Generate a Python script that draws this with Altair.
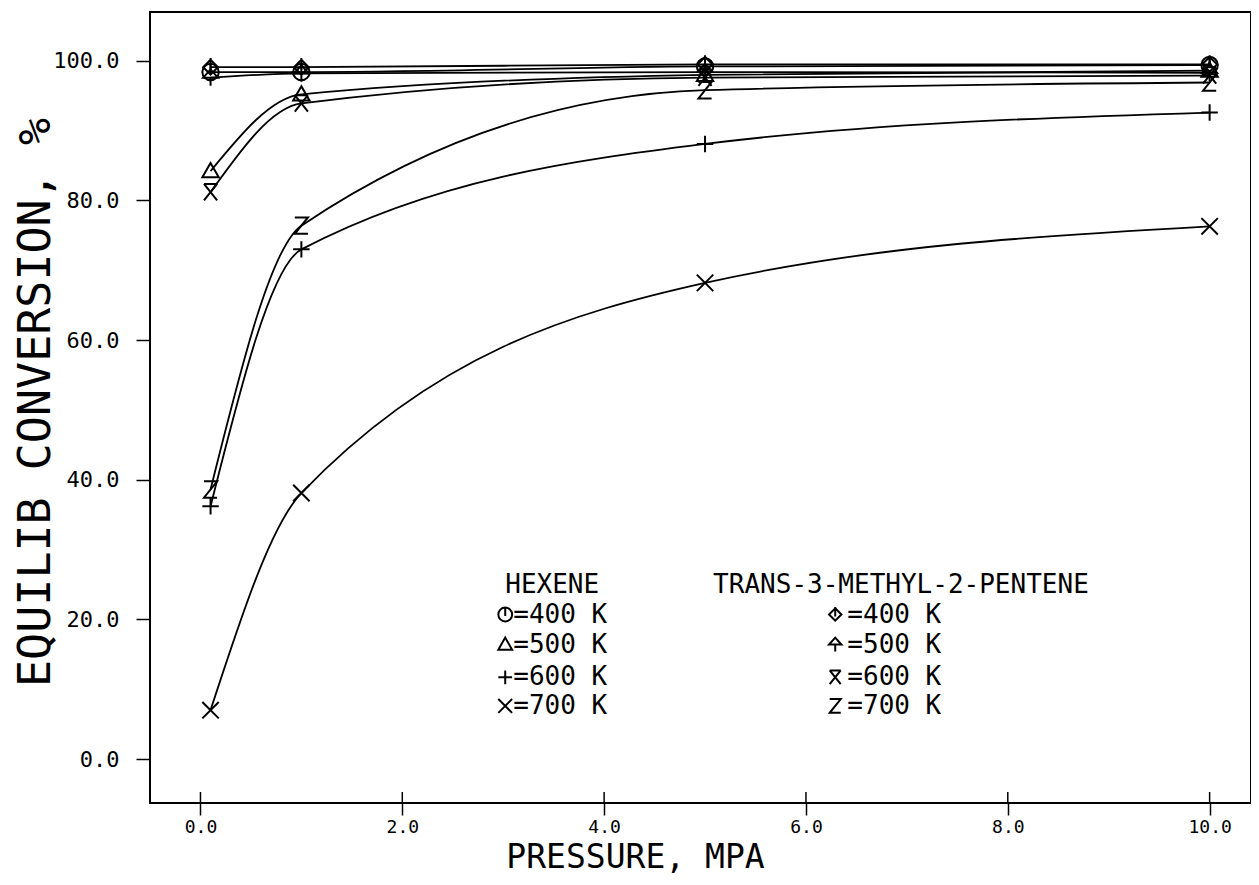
import altair as alt
import pandas as pd

# ---- data ----
pressure = [0.1, 1.0, 5.0, 10.0]

series_names = ["HEX400", "HEX500", "HEX600", "HEX700",
                "T3M400", "T3M500", "T3M600", "T3M700"]

hex_400 = [98.4, 98.4, 99.2, 99.4]
hex_500 = [84.2, 95.2, 98.0, 98.6]
hex_600 = [36.2, 73.0, 88.1, 92.6]
hex_700 = [7.0, 38.1, 68.2, 76.3]
t3m_400 = [99.1, 99.1, 99.5, 99.5]
t3m_500 = [97.6, 98.2, 98.4, 98.3]
t3m_600 = [81.2, 93.9, 97.6, 97.9]
t3m_700 = [38.6, 76.4, 95.8, 96.9]

values = [hex_400, hex_500, hex_600, hex_700, t3m_400, t3m_500, t3m_600, t3m_700]

legend_headers = ["HEXENE", "TRANS-3-METHYL-2-PENTENE"]
legend_labels = ["=400 K", "=500 K", "=600 K", "=700 K"]

x_ticks = [0, 2, 4, 6, 8, 10]
y_ticks = [0, 20, 40, 60, 80, 100]

# ---- marker glyphs (plotter symbols) ----
shape_paths = [
    "M-1,0A1,1,0,1,1,1,0A1,1,0,1,1,-1,0Z M0,-1L0,0.2",          # circle with bar
    "M0,-1L1,0.75L-1,0.75Z",                                     # triangle
    "M-1,0L1,0 M0,-1L0,1",                                       # plus
    "M-1,-1L1,1 M-1,1L1,-1",                                     # x
    "M0,-0.9L0.9,0L0,0.9L-0.9,0Z M0,-1.1L0,0.3",                 # diamond with bar
    "M0,-1L0.9,0L-0.9,0Z M0,0L0,1",                              # spade/arrow
    "M-0.8,-1L0.8,-1 M-0.8,-1L0.8,1 M0.8,-1L-0.8,1",             # x with top bar
    "M-0.8,-1L0.8,-1L-0.8,1L0.8,1",                              # Z
]

rows = []
for name, vals in zip(series_names, values):
    for p, v in zip(pressure, vals):
        rows.append({"series": name, "p": p, "v": v})
df = pd.DataFrame(rows)

# legend layout (annotation positions in data units)
legend_row_y = [20.7, 16.4, 11.7, 7.6]
legend_header_y = 24.9
hex_glyph_x, hex_text_x, hex_head_x = 3.02, 3.10, 3.02
t3m_glyph_x, t3m_text_x, t3m_head_x = 6.29, 6.41, 5.08

leg_glyph = pd.DataFrame({
    "series": series_names,
    "p": [hex_glyph_x] * 4 + [t3m_glyph_x] * 4,
    "v": legend_row_y * 2,
})
leg_text = pd.DataFrame({
    "label": legend_labels * 2 + legend_headers,
    "p": [hex_text_x] * 4 + [t3m_text_x] * 4 + [hex_head_x, t3m_head_x],
    "v": legend_row_y * 2 + [legend_header_y, legend_header_y],
})

mono = "DejaVu Sans Mono"

xscale = alt.Scale(domain=[-0.5, 10.41], nice=False, zero=False)
yscale = alt.Scale(domain=[-6.3, 107.0], nice=False, zero=False)
shape_scale = alt.Scale(domain=series_names, range=shape_paths)

x_axis = alt.Axis(values=x_ticks, format=".1f", title="PRESSURE, MPA",
                  grid=False, domain=False, tickSize=12, tickWidth=1.5, tickColor="black",
                  labelFont=mono, labelFontSize=18,
                  labelColor="black", labelPadding=3,
                  titleFont=mono, titleFontSize=33, titleFontWeight="normal",
                  titleColor="black", titleX=485, titleY=64, titleAlign="center",
                  titleBaseline="alphabetic")
y_axis = alt.Axis(values=y_ticks, format=".1f",
                  title="EQUILIB CONVERSION, %",
                  grid=False, domain=False, tickSize=14, tickWidth=1.5, tickColor="black",
                  labelFont=mono, labelFontSize=22, labelColor="black", labelPadding=17,
                  titleFont=mono, titleFontSize=45, titleFontWeight="normal",
                  titleColor="black", titleX=-115, titleY=390, titleAngle=270,
                  titleAlign="center", titleBaseline="middle")

base = alt.Chart(df)

lines = base.mark_line(interpolate="monotone", color="black", strokeWidth=1.8).encode(
    x=alt.X("p:Q", scale=xscale, axis=x_axis),
    y=alt.Y("v:Q", scale=yscale, axis=y_axis),
    detail="series:N",
)

points = base.mark_point(filled=False, color="black", strokeWidth=2, size=270, opacity=1).encode(
    x=alt.X("p:Q", scale=xscale),
    y=alt.Y("v:Q", scale=yscale),
    shape=alt.Shape("series:N", scale=shape_scale, legend=None),
)

# inner half of the x ticks (the reference ticks cross the axis line)
inner_ticks = alt.Chart(pd.DataFrame({"t": x_ticks})).mark_rule(
    color="black", strokeWidth=1.5).encode(
    x=alt.X("t:Q", scale=xscale),
    y=alt.value(780),
    y2=alt.value(791),
)

leg_points = alt.Chart(leg_glyph).mark_point(filled=False, color="black", strokeWidth=2,
                                             size=190, opacity=1).encode(
    x=alt.X("p:Q", scale=xscale),
    y=alt.Y("v:Q", scale=yscale),
    shape=alt.Shape("series:N", scale=shape_scale, legend=None),
)

leg_texts = alt.Chart(leg_text).mark_text(align="left", baseline="middle", font=mono,
                                          fontSize=26, color="black").encode(
    x=alt.X("p:Q", scale=xscale),
    y=alt.Y("v:Q", scale=yscale),
    text="label:N",
)

chart = alt.layer(lines, points, inner_ticks, leg_points, leg_texts).properties(
    width=1101, height=791,
    autosize=alt.AutoSizeParams(type="none"),
    padding={"left": 142, "top": 4, "right": 0, "bottom": 74},
    background="white",
).configure_view(stroke="black", strokeWidth=2)

chart.save("out.html", embed_options={"renderer": "svg", "actions": False})
